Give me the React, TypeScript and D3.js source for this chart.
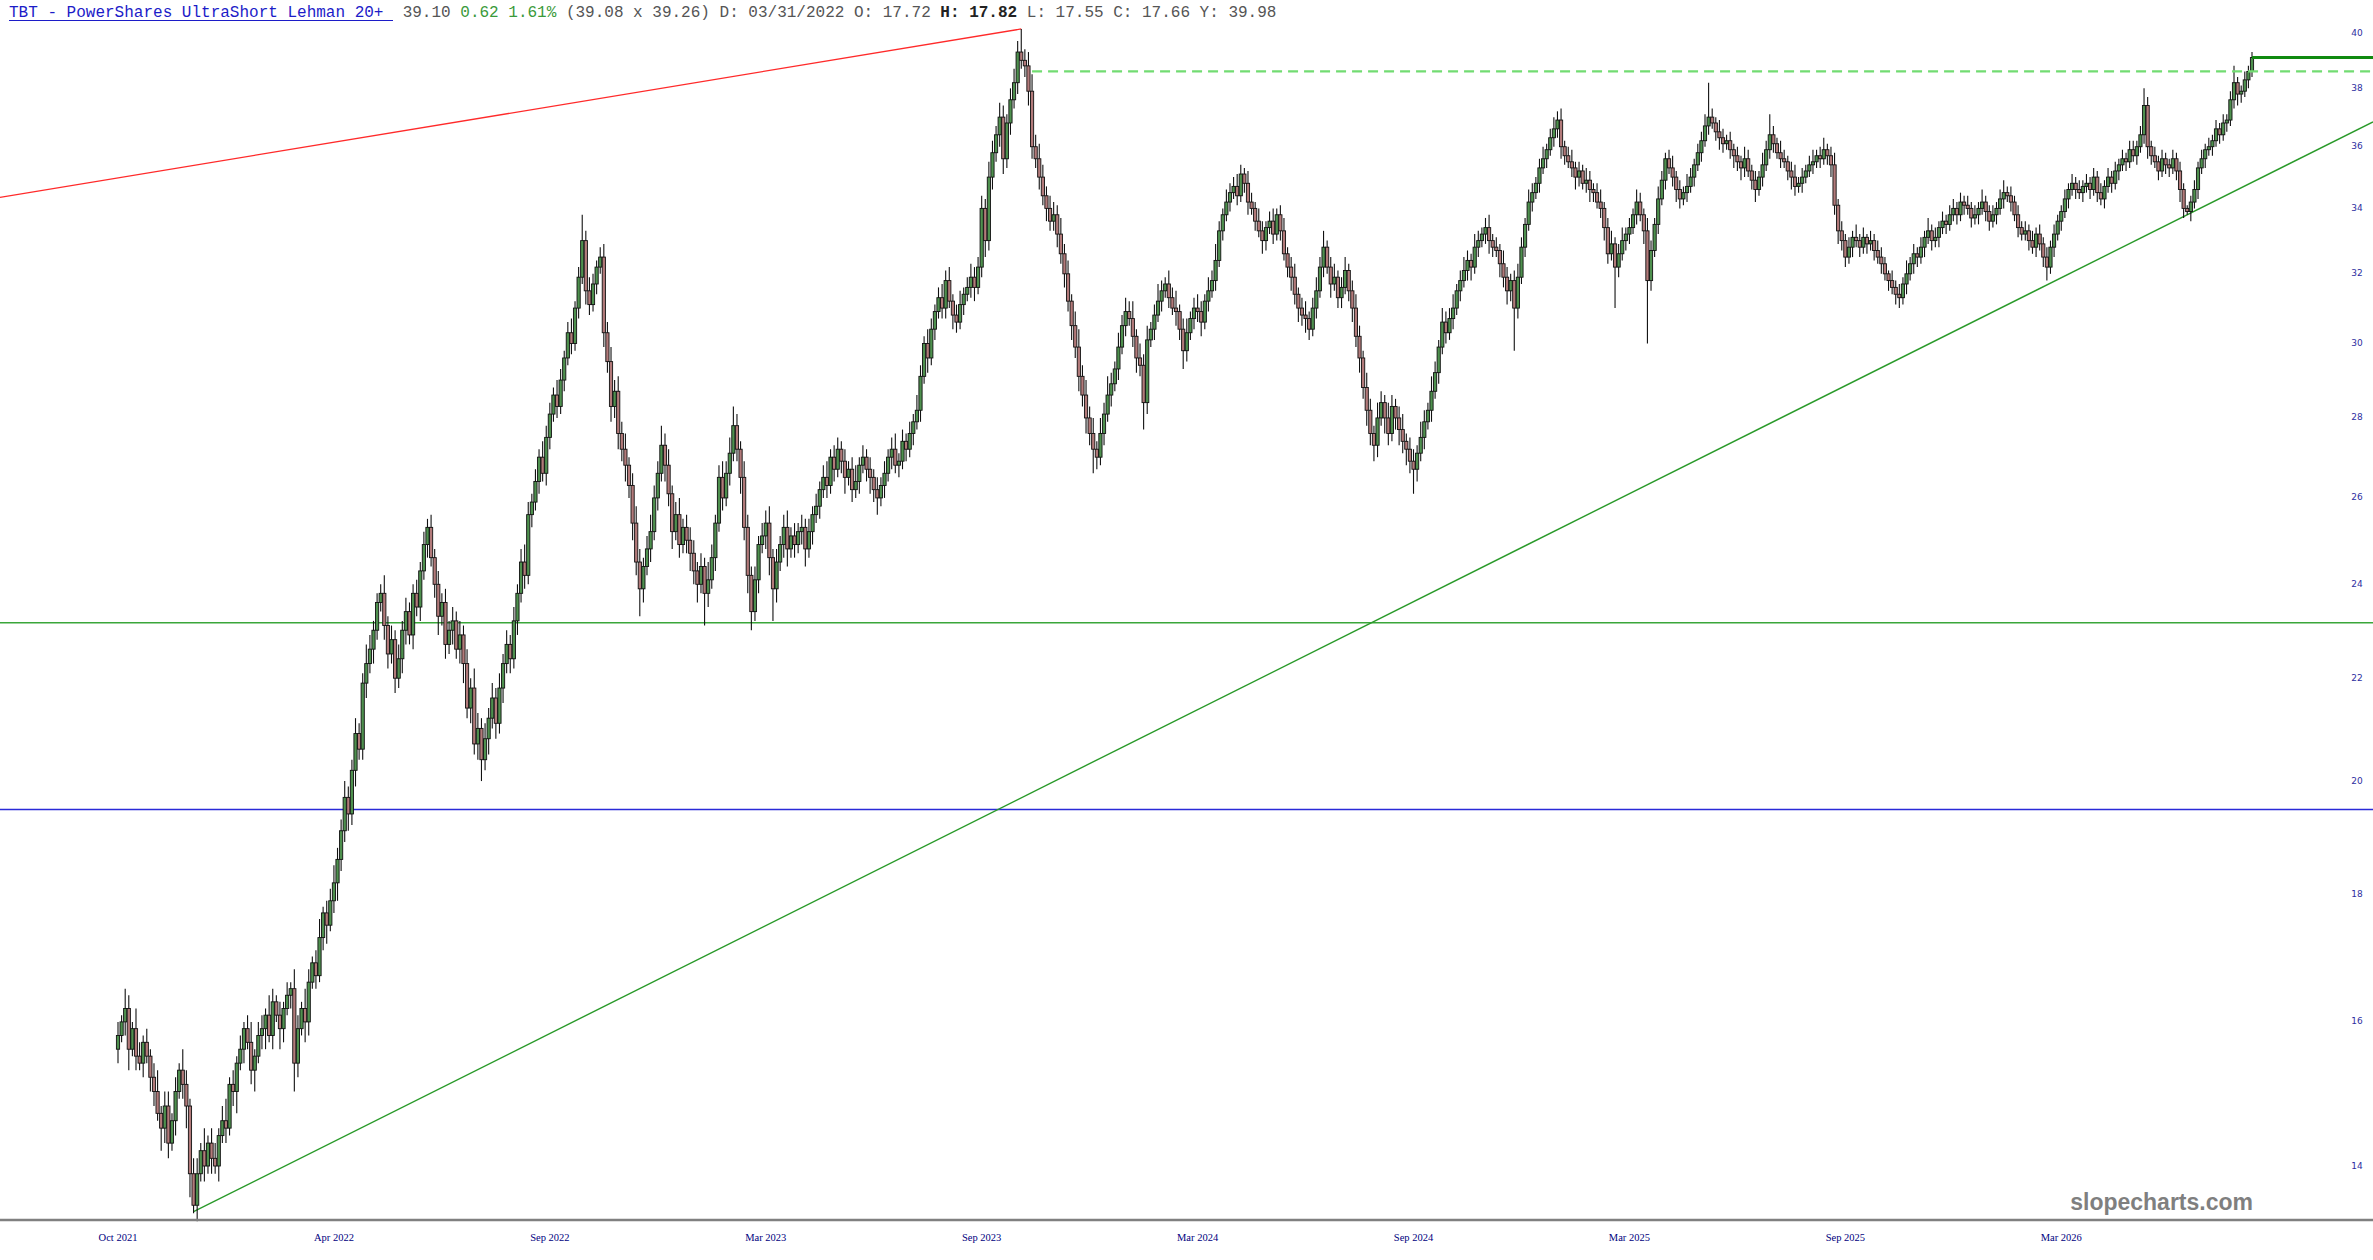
import { useMemo } from "react";
import * as d3 from "d3";

// closing prices (about one bar per two sessions)
const closes = [
  15.8, 16.0, 16.2, 15.6, 15.9, 15.5, 15.4, 15.7, 15.5, 15.2,
  15.0, 14.7, 14.5, 14.8, 14.3, 14.6, 15.0, 15.3, 15.1, 14.8,
  13.9, 13.5, 13.9, 14.2, 14.0, 14.3, 14.1, 14.0, 14.4, 14.6,
  14.5, 15.1, 15.0, 15.4, 15.6, 15.9, 15.7, 15.3, 15.5, 15.8,
  15.9, 16.1, 15.8, 16.3, 16.1, 15.9, 16.2, 16.4, 16.5, 15.4,
  15.9, 16.2, 16.0, 16.6, 16.9, 16.7, 17.3, 17.7, 17.5, 17.9,
  18.2, 18.6, 19.1, 19.7, 19.4, 20.2, 20.9, 20.6, 21.9, 22.3,
  22.6, 23.0, 23.6, 23.8, 23.1, 22.5, 22.8, 22.0, 22.4, 23.0,
  23.4, 22.9, 23.8, 23.5, 24.3, 24.9, 25.3, 24.6, 24.0, 23.3,
  23.6, 22.7, 23.0, 23.2, 22.6, 22.9, 22.3, 21.4, 21.8, 20.7,
  21.0, 20.4, 20.8, 21.2, 21.6, 21.1, 21.8, 22.3, 22.7, 22.4,
  23.2, 23.8, 24.5, 24.2, 25.6, 25.9, 26.4, 27.0, 26.6, 27.5,
  28.1, 28.6, 28.3, 29.0, 29.6, 30.3, 30.0, 31.0, 31.9, 33.0,
  31.5, 31.1, 31.7, 32.2, 32.5, 30.3, 29.5, 28.3, 28.7, 27.6,
  27.2, 26.8, 26.3, 25.4, 24.5, 23.9, 24.4, 24.8, 25.2, 26.0,
  26.6, 27.3, 26.8, 26.1, 25.2, 25.6, 24.9, 25.3, 25.0, 24.7,
  24.3, 24.0, 24.4, 23.8, 24.1, 24.6, 25.4, 26.5, 26.0, 26.6,
  27.1, 27.8, 27.2, 26.5, 25.3, 24.2, 23.4, 24.1, 24.9, 25.1,
  25.4, 24.6, 23.9, 24.5, 24.9, 25.3, 24.8, 25.1, 24.9, 25.2,
  25.3, 24.8, 25.2, 25.6, 25.8, 26.2, 26.5, 26.3, 27.0, 26.7,
  27.2, 26.9, 26.5, 26.7, 26.2, 26.4, 26.8, 27.0, 26.7, 26.5,
  26.2, 26.0, 26.3, 26.6, 27.0, 27.2, 26.8, 26.9, 27.4, 27.2,
  27.6, 27.9, 28.2, 29.1, 30.0, 29.6, 30.4, 30.9, 31.3, 31.0,
  31.8, 31.2, 30.8, 30.6, 31.1, 31.4, 31.6, 31.9, 31.6, 32.2,
  34.0, 33.0, 35.0, 35.8, 36.4, 37.0, 35.6, 36.8, 37.6, 38.2,
  39.3, 39.0, 38.8, 37.9, 36.0, 35.6, 35.0, 34.4, 34.0, 33.6,
  33.8, 33.2, 32.6, 32.0, 31.2, 30.5, 29.9, 29.1, 28.6, 28.0,
  27.6, 27.2, 27.0, 27.6, 28.1, 28.6, 28.9, 29.3, 29.9, 30.5,
  30.9, 30.7, 30.2, 29.6, 29.4, 28.4, 30.1, 30.4, 30.8, 31.2,
  31.5, 31.7, 31.3, 31.0, 30.9, 30.4, 29.8, 30.3, 30.7, 31.0,
  30.9, 30.6, 31.2, 31.5, 31.8, 32.4, 33.3, 33.8, 34.2, 34.5,
  34.7, 34.4, 35.1, 34.8, 34.2, 34.0, 33.6, 33.3, 33.0, 33.4,
  33.6, 33.2, 33.8, 33.3, 32.6, 32.2, 31.9, 31.4, 31.0, 30.8,
  30.7, 30.4, 31.0, 31.5, 32.2, 32.8, 32.2, 31.7, 31.9, 31.3,
  31.6, 32.1, 31.5, 31.0, 30.2, 29.6, 28.8, 28.2, 27.6, 27.3,
  28.0, 28.4, 28.0, 27.6, 28.3, 28.0, 27.7, 27.4, 27.2, 26.9,
  26.7, 27.1, 27.5, 27.9, 28.2, 28.7, 29.2, 29.9, 30.6, 30.3,
  30.7, 31.0, 31.5, 31.8, 32.1, 32.4, 32.2, 32.8, 33.0, 33.2,
  33.4, 33.0, 32.8, 32.7, 32.3, 31.9, 31.5, 31.8, 31.0, 31.9,
  32.8, 33.5, 34.2, 34.5, 34.8, 35.3, 35.6, 35.9, 36.3, 36.6,
  36.9, 36.0, 35.7, 35.5, 35.3, 35.0, 35.2, 34.8, 34.9, 34.6,
  34.5, 34.2, 34.0, 33.4, 32.6, 32.9, 32.2, 32.6, 33.0, 33.2,
  33.4, 33.8, 34.2, 33.8, 33.3, 31.8, 32.7, 33.5, 34.3, 34.9,
  35.6, 35.3, 35.0, 34.6, 34.3, 34.5, 34.7, 35.0, 35.4, 35.8,
  36.2, 36.7, 37.0, 36.8, 36.5, 36.3, 36.1, 36.2, 35.9, 35.7,
  35.5, 35.3, 35.6, 35.2, 34.9, 34.6, 35.0, 35.4, 35.9, 36.4,
  36.1, 35.8, 35.6, 35.5, 35.2, 35.0, 34.7, 34.8, 35.0, 35.2,
  35.4, 35.5, 35.7, 35.6, 35.9, 35.7, 35.4, 34.1, 33.3, 33.0,
  32.5, 32.8, 33.1, 33.0, 32.8, 33.1, 32.9, 33.0, 32.7, 32.5,
  32.3, 32.0, 31.8, 31.6, 31.4, 31.3, 31.7, 32.0, 32.3, 32.6,
  32.5, 32.8, 33.1, 33.3, 33.0, 33.1, 33.4, 33.6, 33.5, 33.8,
  34.0, 33.8, 34.2, 34.1, 34.0, 33.7, 33.8, 34.0, 34.2, 33.9,
  33.6, 33.8, 34.0, 34.3, 34.5, 34.4, 34.2, 33.8, 33.4, 33.2,
  33.3, 33.0, 32.8, 33.2, 32.9, 32.5, 32.2, 32.8, 33.2, 33.6,
  33.9, 34.3, 34.6, 34.8, 34.6, 34.5, 34.7, 34.8, 34.6, 35.0,
  34.5, 34.3, 34.7, 35.0, 34.8, 35.2, 35.4, 35.6, 35.5, 35.9,
  35.7, 36.0, 36.4, 37.4, 36.0, 35.7, 35.5, 35.2, 35.6, 35.4,
  35.3, 35.6, 35.2, 34.6, 34.0, 33.9, 34.2, 34.6, 35.3, 35.6,
  35.9, 36.0, 36.2, 36.6, 36.4, 36.8, 36.9, 37.6, 38.2, 37.8,
  37.9, 38.3, 38.6, 39.1,
];

// upper / lower shadow lengths beyond the body, same bars
const wickUp = [
  .2, .1, .3, .2, .1, .3, .2, .1, .2, .1,
  .2, .3, .1, .2, .2, .1, .2, .1, .3, .2,
  .1, .2, .2, .1, .3, .1, .2, .2, .1, .2,
  .3, .1, .2, .1, .2, .1, .2, .3, .1, .2,
  .2, .1, .3, .2, .1, .2, .1, .2, .1, .3,
  .2, .1, .3, .2, .1, .2, .3, .1, .2, .2,
  .3, .2, .2, .3, .2, .2, .3, .2, .2, .4,
  .3, .2, .2, .2, .4, .2, .3, .2, .3, .2,
  .3, .2, .2, .3, .2, .3, .2, .3, .2, .3,
  .2, .3, .2, .3, .2, .3, .2, .3, .2, .4,
  .3, .2, .3, .2, .3, .2, .3, .2, .3, .2,
  .3, .2, .3, .4, .3, .2, .3, .2, .4, .3,
  .3, .2, .4, .3, .2, .3, .4, .2, .3, .8,
  .3, .4, .3, .2, .3, .4, .3, .4, .3, .4,
  .3, .4, .2, .3, .4, .3, .2, .3, .4, .3,
  .3, .5, .3, .4, .2, .3, .4, .2, .3, .3,
  .3, .2, .3, .2, .4, .3, .2, .3, .4, .3,
  .4, .5, .3, .2, .4, .3, .2, .3, .2, .3,
  .3, .4, .2, .3, .2, .3, .4, .2, .3, .2,
  .3, .2, .3, .2, .3, .2, .3, .4, .2, .3,
  .3, .2, .3, .2, .3, .4, .2, .3, .2, .3,
  .2, .3, .2, .3, .2, .3, .4, .2, .3, .2,
  .3, .2, .4, .3, .2, .4, .3, .2, .3, .4,
  .3, .4, .2, .3, .4, .2, .3, .4, .3, .3,
  .4, .3, .5, .4, .3, .5, .4, .3, .4, .5,
  .4, .85, .4, .5, .6, .4, .5, .4, .3, .4,
  .4, .3, .5, .3, .4, .2, .4, .5, .3, .4,
  .3, .4, .2, .4, .3, .5, .3, .2, .4, .3,
  .4, .3, .5, .2, .4, .3, .4, .2, .3, .5,
  .3, .2, .4, .3, .5, .2, .3, .4, .2, .3,
  .4, .3, .2, .4, .3, .5, .3, .2, .4, .3,
  .3, .4, .3, .2, .4, .3, .2, .4, .3, .2,
  .3, .4, .2, .3, .4, .2, .3, .4, .2, .3,
  .4, .2, .3, .4, .3, .5, .2, .3, .4, .2,
  .3, .4, .2, .3, .4, .3, .2, .4, .3, .2,
  .4, .3, .2, .4, .3, .2, .3, .4, .2, .3,
  .3, .2, .4, .3, .2, .4, .3, .2, .4, .3,
  .3, .4, .2, .3, .4, .3, .2, .4, .3, .2,
  .3, .4, .2, .3, .2, .4, .3, .2, .3, .4,
  .3, .2, .4, .3, .2, .3, .4, .2, .3, .4,
  .3, .4, .2, .3, .4, .2, .3, .2, .4, .3,
  .2, .3, .4, .2, .3, .4, .2, .3, .4, .2,
  .3, .2, .4, .3, .2, .4, .3, .2, .4, .3,
  .2, .3, .4, .2, .3, .2, .4, .3, .2, .3,
  .3, .4, 1.2, .3, .2, .4, .3, .2, .3, .2,
  .3, .2, .4, .3, .2, .3, .2, .4, .3, .7,
  .3, .2, .4, .3, .2, .3, .4, .2, .3, .2,
  .3, .4, .2, .3, .4, .2, .3, .4, .2, .3,
  .2, .3, .2, .4, .2, .3, .1, .3, .2, .3,
  .3, .2, .1, .3, .2, .3, .2, .4, .2, .3,
  .2, .3, .2, .4, .2, .3, .2, .3, .2, .3,
  .3, .2, .3, .2, .3, .2, .3, .2, .4, .2,
  .2, .3, .2, .3, .4, .2, .3, .2, .3, .2,
  .3, .2, .3, .2, .3, .2, .3, .2, .3, .2,
  .2, .3, .2, .3, .2, .3, .2, .3, .2, .3,
  .2, .3, .2, .3, .2, .3, .2, .3, .2, .3,
  .3, .2, .3, .6, .3, .2, .3, .2, .3, .2,
  .2, .3, .2, .3, .2, .1, .2, .3, .2, .3,
  .2, .3, .2, .3, .2, .3, .2, .3, .6, .2,
  .2, .3, .2, .2,
];

const wickDown = [
  .2, .1, .2, .3, .1, .2, .1, .2, .1, .2,
  .2, .1, .3, .2, .2, .1, .2, .1, .2, .3,
  .3, .1, .2, .1, .2, .1, .2, .1, .2, .1,
  .2, .1, .2, .3, .1, .2, .1, .2, .3, .1,
  .2, .3, .1, .2, .1, .3, .2, .1, .2, .4,
  .2, .1, .3, .2, .1, .2, .1, .2, .3, .1,
  .2, .3, .2, .2, .3, .2, .3, .2, .2, .3,
  .2, .3, .2, .2, .3, .3, .2, .3, .2, .3,
  .3, .2, .3, .2, .3, .2, .3, .2, .3, .4,
  .2, .3, .2, .3, .2, .3, .4, .2, .3, .2,
  .3, .4, .2, .3, .2, .3, .2, .3, .2, .3,
  .2, .3, .2, .3, .2, .3, .2, .3, .2, .3,
  .3, .2, .3, .2, .3, .2, .3, .2, .3, .2,
  .4, .3, .2, .3, .2, .4, .3, .4, .3, .4,
  .3, .4, .3, .4, .3, .6, .3, .2, .3, .2,
  .3, .2, .4, .3, .4, .2, .3, .2, .3, .4,
  .3, .4, .2, .7, .3, .2, .3, .2, .3, .2,
  .3, .2, .3, .4, .3, .4, .4, .2, .3, .2,
  .3, .4, .7, .3, .2, .3, .4, .2, .3, .2,
  .3, .4, .2, .3, .2, .3, .2, .3, .2, .3,
  .2, .3, .4, .2, .3, .2, .3, .2, .3, .4,
  .3, .4, .2, .3, .2, .3, .2, .3, .2, .3,
  .2, .3, .2, .3, .2, .4, .2, .3, .2, .3,
  .3, .2, .4, .3, .2, .3, .2, .3, .4, .2,
  .3, .5, .3, .4, .3, .4, .5, .3, .4, .3,
  .4, .3, .4, .5, .4, .3, .4, .3, .4, .3,
  .3, .4, .3, .4, .3, .4, .3, .4, .3, .4,
  .3, .6, .3, .2, .3, .2, .3, .2, .3, .2,
  .3, .2, .3, .4, .3, .7, .3, .2, .3, .2,
  .3, .2, .3, .2, .4, .3, .5, .3, .2, .3,
  .3, .4, .2, .3, .2, .3, .2, .3, .2, .3,
  .2, .3, .2, .3, .4, .2, .3, .2, .4, .3,
  .2, .3, .2, .3, .2, .3, .4, .3, .4, .3,
  .4, .3, .2, .3, .2, .3, .2, .4, .2, .3,
  .3, .2, .3, .4, .3, .4, .3, .4, .3, .4,
  .3, .2, .4, .3, .2, .3, .4, .3, .4, .3,
  .6, .3, .2, .3, .2, .3, .2, .3, .2, .3,
  .2, .3, .2, .3, .2, .3, .4, .2, .3, .2,
  .3, .4, .3, .2, .4, .3, .4, .3, 1.2, .3,
  .2, .3, .2, .3, .2, .3, .2, .3, .2, .3,
  .3, .4, .3, .2, .3, .4, .3, .2, .3, .4,
  .3, .2, .3, .4, .3, .2, 1.2, .3, .2, .3,
  .3, .2, .3, .2, .4, 1.8, .3, .2, .3, .2,
  .3, .2, .3, .4, .3, .2, .3, .2, .3, .2,
  .3, .2, .3, .2, .3, .4, .3, .2, .3, .4,
  .3, .4, .3, .2, .3, .4, .2, .3, .2, .3,
  .3, .2, .3, .2, .3, .4, .3, .2, .3, .2,
  .2, .3, .2, .3, .2, .3, .4, .3, .4, .3,
  .3, .2, .3, .2, .3, .2, .3, .2, .3, .2,
  .3, .2, .3, .2, .3, .3, .2, .3, .2, .3,
  .3, .2, .3, .2, .3, .2, .3, .2, .3, .2,
  .2, .3, .2, .3, .2, .3, .2, .3, .2, .3,
  .3, .2, .3, .2, .3, .2, .3, .2, .3, .2,
  .2, .3, .2, .3, .2, .3, .4, .2, .3, .2,
  .3, .2, .3, .2, .3, .2, .3, .2, .3, .2,
  .3, .2, .3, .2, .3, .2, .3, .2, .3, .2,
  .2, .3, .2, .3, .4, .3, .2, .3, .2, .3,
  .3, .2, .3, .4, .3, .1, .3, .2, .3, .2,
  .3, .2, .3, .2, .3, .2, .3, .2, .3, .4,
  .3, .2, .3, .2,
];

const firstOpen = 15.6;

// date axis: bar index of each label
const tickBars = [0, 60, 120, 180, 240, 300, 360, 420, 480, 540];
const tickLabels = [
  "Oct 2021", "Apr 2022", "Sep 2022", "Mar 2023", "Sep 2023",
  "Mar 2024", "Sep 2024", "Mar 2025", "Sep 2025", "Mar 2026",
];
const priceTicks = [14, 16, 18, 20, 22, 24, 26, 28, 30, 32, 34, 36, 38, 40];

// drawn lines, as [bar, price]
const redLine = [[-32.8, 34.35], [251, 40.15]];
const trendLine = [[21, 13.42], [575, 33.8]];
const supportPrice = 23.16;
const bluePrice = 19.48;
const resistance = [254, 38.6];
const lastPrice = 39.1;

const header = {
  title: "TBT - PowerShares UltraShort Lehman 20+ ",
  last: " 39.10 ",
  change: "0.62 1.61%",
  quote: " (39.08 x 39.26) D: 03/31/2022 O: 17.72 ",
  high: "H: 17.82",
  rest: " L: 17.55 C: 17.66 Y: 39.98",
};

const W = 2373;
const H = 1260;

export default function App() {
  const x = d3.scaleLinear().domain([0, closes.length - 1]).range([118, 2252]);
  const y = d3.scaleLog().domain([14, 40]).range([1166, 33]);

  const bars = useMemo(
    () =>
      closes.map((c, i) => {
        const o = i === 0 ? firstOpen : closes[i - 1];
        return {
          i,
          o,
          c,
          h: Math.max(o, c) + wickUp[i],
          l: Math.min(o, c) - wickDown[i],
        };
      }),
    []
  );

  // rising trend line, extended to the right edge
  const t0 = [x(trendLine[0][0]), y(trendLine[0][1])];
  const t1 = [x(trendLine[1][0]), y(trendLine[1][1])];
  const slope = (t1[1] - t0[1]) / (t1[0] - t0[0]);
  const tEndY = t0[1] + slope * (W - t0[0]);

  const axisY = 1220;
  const bodyW = 3.2;

  return (
    <svg
      width={W}
      height={H}
      style={{ position: "absolute", left: 0, top: 0, background: "#fff" }}
    >
      <rect width={W} height={H} fill="#fff" />

      {/* header */}
      <text
        x={9}
        y={17}
        fontFamily="'Liberation Mono', monospace"
        fontSize={16}
        style={{ whiteSpace: "pre" }}
      >
        <tspan fill="#1c1cc8">{header.title}</tspan>
        <tspan fill="#555">{header.last}</tspan>
        <tspan fill="#3a9a3a">{header.change}</tspan>
        <tspan fill="#555">{header.quote}</tspan>
        <tspan fill="#222" fontWeight="bold">{header.high}</tspan>
        <tspan fill="#555">{header.rest}</tspan>
      </text>
      <line
        x1={9}
        x2={9 + header.title.length * 9.6}
        y1={20.5}
        y2={20.5}
        stroke="#1c1cc8"
        strokeWidth={1}
      />

      {/* horizontal levels */}
      <line x1={0} x2={W} y1={y(supportPrice)} y2={y(supportPrice)} stroke="#3aa63a" strokeWidth={1.3} />
      <line x1={0} x2={W} y1={y(bluePrice)} y2={y(bluePrice)} stroke="#2a2ad8" strokeWidth={1.3} />

      {/* trend lines */}
      <line
        x1={x(redLine[0][0])}
        y1={y(redLine[0][1])}
        x2={x(redLine[1][0])}
        y2={y(redLine[1][1])}
        stroke="#ff2a2a"
        strokeWidth={1.3}
      />
      <line x1={t0[0]} y1={t0[1]} x2={W} y2={tEndY} stroke="#2a9a2a" strokeWidth={1.4} />

      {/* candles */}
      <g>
        {bars.map((b) => {
          const cx = x(b.i);
          const top = y(Math.max(b.o, b.c));
          const bot = y(Math.min(b.o, b.c));
          const up = b.c >= b.o;
          return (
            <g key={b.i}>
              <line x1={cx} x2={cx} y1={y(b.h)} y2={y(b.l)} stroke="#111" strokeWidth={1.1} />
              <rect
                x={cx - bodyW / 2}
                y={top}
                width={bodyW}
                height={Math.max(1.5, bot - top)}
                fill={up ? "#4e904e" : "#b27a7a"}
                stroke="#111"
                strokeWidth={0.9}
              />
            </g>
          );
        })}
      </g>

      {/* resistance and last price */}
      <line
        x1={x(resistance[0])}
        x2={W}
        y1={y(resistance[1])}
        y2={y(resistance[1])}
        stroke="#72dc72"
        strokeWidth={2.2}
        strokeDasharray="10 6"
      />
      <line
        x1={x(closes.length - 1)}
        x2={W}
        y1={y(lastPrice)}
        y2={y(lastPrice)}
        stroke="#108a10"
        strokeWidth={3}
      />

      {/* price axis labels */}
      {priceTicks.map((p) => (
        <text
          key={p}
          x={2357}
          y={y(p)}
          textAnchor="middle"
          dominantBaseline="middle"
          fontFamily="'DejaVu Sans', sans-serif"
          fontSize={9}
          fill="#2e2ea0"
        >
          {p}
        </text>
      ))}

      {/* bottom axis */}
      <line x1={0} x2={W} y1={axisY} y2={axisY} stroke="#808080" strokeWidth={2.5} />
      {tickBars.map((t, k) => (
        <text
          key={t}
          x={x(t)}
          y={1239}
          textAnchor="middle"
          dominantBaseline="middle"
          fontFamily="'Liberation Serif', serif"
          fontSize={10.5}
          fill="#000080"
        >
          {tickLabels[k]}
        </text>
      ))}

      {/* watermark */}
      <text
        x={2253}
        y={1210}
        textAnchor="end"
        fontFamily="'Liberation Sans', Arial, sans-serif"
        fontWeight="bold"
        fontSize={23}
        fill="#7f7f7f"
      >
        slopecharts.com
      </text>
    </svg>
  );
}
